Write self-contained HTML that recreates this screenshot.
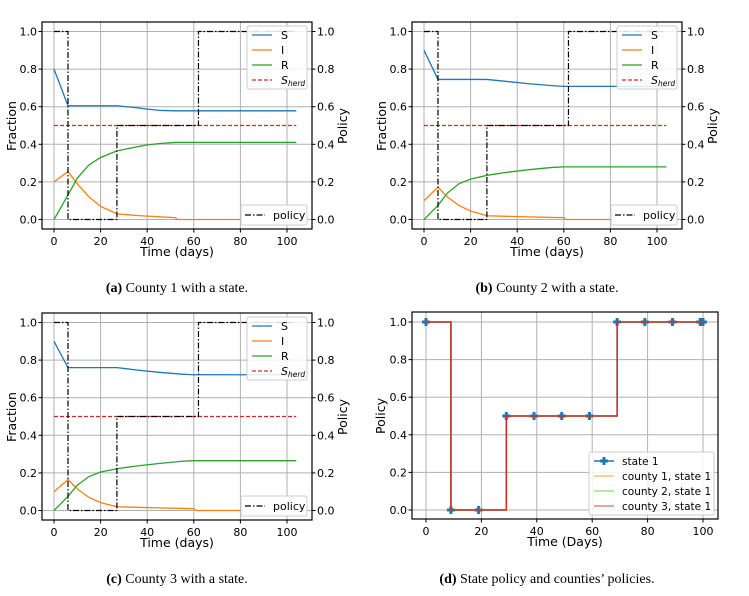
<!DOCTYPE html>
<html><head><meta charset="utf-8"><style>
body{margin:0;background:#fff;width:749px;height:591px;overflow:hidden}
svg text{font-family:"DejaVu Sans","Liberation Sans",sans-serif}
.cap{font-family:"Liberation Serif",serif;font-size:14px}
</style></head><body>
<svg id="fig" width="749" height="591" xmlns="http://www.w3.org/2000/svg"></svg>
<script>
// Panel (a) county 1
const daysA = [0,6,10,15,20,27,35,40,46,52,53,60,70,80,90,104];
const sA = [0.8,0.605,0.605,0.605,0.605,0.605,0.595,0.587,0.58,0.578,0.578,0.578,0.578,0.578,0.578,0.578];
const iA = [0.2,0.255,0.19,0.12,0.07,0.03,0.022,0.018,0.014,0.01,0,0,0,0,0,0];
const rA = [0,0.13,0.22,0.29,0.33,0.365,0.385,0.397,0.405,0.41,0.41,0.41,0.41,0.41,0.41,0.41];
// Panel (b) county 2
const daysB = [0,6,10,15,20,27,35,45,55,60,61,70,80,90,104];
const sB = [0.9,0.745,0.745,0.745,0.745,0.745,0.735,0.722,0.712,0.708,0.708,0.708,0.708,0.708,0.708];
const iB = [0.1,0.172,0.12,0.075,0.045,0.02,0.017,0.014,0.011,0.01,0,0,0,0,0];
const rB = [0,0.075,0.14,0.19,0.215,0.235,0.25,0.265,0.277,0.28,0.28,0.28,0.28,0.28,0.28];
// Panel (c) county 3
const daysC = [0,6,10,15,20,27,35,45,55,60,61,70,80,90,104];
const sC = [0.9,0.76,0.76,0.76,0.76,0.76,0.748,0.735,0.725,0.722,0.722,0.722,0.722,0.722,0.722];
const iC = [0.1,0.165,0.115,0.07,0.042,0.02,0.017,0.014,0.011,0.01,0,0,0,0,0];
const rC = [0,0.075,0.135,0.18,0.205,0.222,0.236,0.25,0.262,0.265,0.265,0.265,0.265,0.265,0.265];
const sherd = 0.5;
// county policy steps (shared)
const polDays = [0,6,27,62,104];
const polVals = [1,0,0.5,1,1];
// Panel (d) state policy
const stateDays = [0,9,19,29,39,49,59,69,79,89,99,100];
const stateVals = [1,0,0,0.5,0.5,0.5,0.5,1,1,1,1,1];
const countyDays = [0,9,29,69,100];
const countyVals = [1,0,0.5,1,1];
const xTicksA = [0,20,40,60,80,100];
const yTicks = [0,0.2,0.4,0.6,0.8,1.0];

const NS="http://www.w3.org/2000/svg";
const fig=document.getElementById('fig');
function el(tag,attrs,parent,txt){const e=document.createElementNS(NS,tag);for(const k in attrs)e.setAttribute(k,attrs[k]);if(txt!==undefined)e.textContent=txt;(parent||fig).appendChild(e);return e;}
const C={b:'#1f77b4',o:'#ff7f0e',g:'#2ca02c',r:'#d62728'};
const TF=11, LF=12.5;

function sirPanel(ox,oy,days,s,i,r,name,caption,bold){
  const g=el('g',{transform:`translate(${ox},${oy})`});
  
  
  const L=42,R=312,T=22,B=229;
  const X=d=>54+d*(287-54)/100, Y=v=>219.5-v*188;
  for(const t of xTicksA){el('line',{x1:X(t),x2:X(t),y1:T,y2:B,stroke:'#b0b0b0','stroke-width':1},g);}
  for(const t of yTicks){el('line',{x1:L,x2:R,y1:Y(t),y2:Y(t),stroke:'#b0b0b0','stroke-width':1},g);}
  const line=(xs,ys,col,extra)=>el('polyline',Object.assign({points:xs.map((d,k)=>X(d)+','+Y(ys[k])).join(' '),fill:'none',stroke:col,'stroke-width':1.3},extra||{}),g);
  let p=line(days,s,C.b);
  p=line(days,i,C.o);
  p=line(days,r,C.g);
  p=line([0,104],[sherd,sherd],C.r,{'stroke-dasharray':'4,2'});
  let pts=[];for(let k=0;k<polDays.length-1;k++){pts.push(X(polDays[k])+','+Y(polVals[k]));pts.push(X(polDays[k+1])+','+Y(polVals[k]));}
  p=el('polyline',{points:pts.join(' '),fill:'none',stroke:'#000','stroke-width':1.2,'stroke-dasharray':'6,2,1.5,2'},g);
  
  el('rect',{x:L,y:T,width:R-L,height:B-T,fill:'none',stroke:'#000','stroke-width':1.2},g);
  for(const t of xTicksA){el('line',{x1:X(t),x2:X(t),y1:B,y2:B+3.5,stroke:'#000'},g);el('text',{x:X(t),y:B+16,'font-size':TF,'text-anchor':'middle'},g,t);}
  for(const t of yTicks){el('line',{x1:L-3.5,x2:L,y1:Y(t),y2:Y(t),stroke:'#000'},g);el('text',{x:L-5,y:Y(t)+4,'font-size':TF,'text-anchor':'end'},g,t.toFixed(1));
    el('line',{x1:R,x2:R+3.5,y1:Y(t),y2:Y(t),stroke:'#000'},g);el('text',{x:R+5,y:Y(t)+4,'font-size':TF},g,t.toFixed(1));}
  el('text',{x:177,y:256,'font-size':LF,'text-anchor':'middle'},g,'Time (days)');
  el('text',{x:0,y:0,'font-size':LF,'text-anchor':'middle',transform:'translate(16,126) rotate(-90)'},g,'Fraction');
  el('text',{x:0,y:0,'font-size':LF,'text-anchor':'middle',transform:'translate(347,126) rotate(-90)'},g,'Policy');
  const lg=el('g',{},g);
  el('rect',{x:247,y:26,width:60,height:63,fill:'#fff','fill-opacity':0.85,stroke:'#ccc',rx:2},lg);
  const ent=[['S',C.b,''],['I',C.o,''],['R',C.g,''],['S',C.r,'4,2']];
  ent.forEach((e,k)=>{const y=35+k*15;el('line',{x1:252,x2:272,y1:y,y2:y,stroke:e[1],'stroke-width':1.3,'stroke-dasharray':e[2]},lg);
    const t=el('text',{x:281,y:y+4,'font-size':11,'font-style':k==3?'italic':'normal'},lg,e[0]);
    if(k==3){el('tspan',{'font-size':7.5,dy:2},t,'herd');}});
  const lg2=el('g',{},g);
  el('rect',{x:241,y:205,width:66,height:20,fill:'#fff',stroke:'#ccc',rx:2},lg2);
  el('line',{x1:245,x2:265,y1:215,y2:215,stroke:'#000','stroke-width':1.2,'stroke-dasharray':'6,2,1.5,2'},lg2);
  el('text',{x:273,y:219,'font-size':11},lg2,'policy');
  const c=el('text',{x:177,y:292,'text-anchor':'middle',class:'cap'},g);
  
  el('tspan',{'font-weight':'bold'},c,bold);el('tspan',{},c,' '+caption);
}
sirPanel(0,0,daysA,sA,iA,rA,'panel-a','County 1 with a state.','(a)');
sirPanel(370,0,daysB,sB,iB,rB,'panel-b','County 2 with a state.','(b)');
sirPanel(0,291,daysC,sC,iC,rC,'panel-c','County 3 with a state.','(c)');

(function(){
  const g=el('g',{});
  
  const L=412,R=718,T=312,B=519;
  const X=d=>426+d*(703-426)/100, Y=v=>510-v*188;
  for(const t of xTicksA){el('line',{x1:X(t),x2:X(t),y1:T,y2:B,stroke:'#b0b0b0'},g);}
  for(const t of yTicks){el('line',{x1:L,x2:R,y1:Y(t),y2:Y(t),stroke:'#b0b0b0'},g);}
  const step=(xs,ys)=>{let pts=[];for(let k=0;k<xs.length-1;k++){pts.push(X(xs[k])+','+Y(ys[k]));pts.push(X(xs[k+1])+','+Y(ys[k]));}return pts.join(' ');};
  let p=el('polyline',{points:step(stateDays,stateVals),fill:'none',stroke:C.b,'stroke-width':1.5},g);
  
  stateDays.forEach((d,k)=>{const m=el('path',{d:`M${X(d)-4},${Y(stateVals[k])-1.5}h2.5v-2.5h3v2.5h2.5v3h-2.5v2.5h-3v-2.5h-2.5z`,fill:C.b},g);
    });
  [[C.o,'county-1-line'],[C.g,'county-2-line'],[C.r,'county-3-line']].forEach(e=>{const q=el('polyline',{points:step(countyDays,countyVals),fill:'none',stroke:e[0],'stroke-width':1.3},g);
    });
  el('rect',{x:L,y:T,width:R-L,height:B-T,fill:'none',stroke:'#000','stroke-width':1.2},g);
  for(const t of xTicksA){el('line',{x1:X(t),x2:X(t),y1:B,y2:B+3.5,stroke:'#000'},g);el('text',{x:X(t),y:B+16,'font-size':TF,'text-anchor':'middle'},g,t);}
  for(const t of yTicks){el('line',{x1:L-3.5,x2:L,y1:Y(t),y2:Y(t),stroke:'#000'},g);el('text',{x:L-5,y:Y(t)+4,'font-size':TF,'text-anchor':'end'},g,t.toFixed(1));}
  el('text',{x:565,y:546,'font-size':LF,'text-anchor':'middle'},g,'Time (Days)');
  el('text',{x:0,y:0,'font-size':LF,'text-anchor':'middle',transform:'translate(385,416) rotate(-90)'},g,'Policy');
  const lg=el('g',{},g);
  el('rect',{x:589,y:452,width:125,height:63,fill:'#fff','fill-opacity':0.85,stroke:'#ccc',rx:2},lg);
  const ent=[['state 1',C.b],['county 1, state 1','#ffbb78'],['county 2, state 1','#98df8a'],['county 3, state 1','#f08080']];
  ent.forEach((e,k)=>{const y=461+k*15;el('line',{x1:594,x2:614,y1:y,y2:y,stroke:e[1],'stroke-width':1.5},lg);
    if(k==0)el('path',{d:`M600,${y-1.5}h2.5v-2.5h3v2.5h2.5v3h-2.5v2.5h-3v-2.5h-2.5z`,fill:C.b},lg);
    el('text',{x:622,y:y+4,'font-size':10.5},lg,e[0]);});
  const c=el('text',{x:547,y:583,'text-anchor':'middle',class:'cap'},g);
  
  el('tspan',{'font-weight':'bold'},c,'(d)');el('tspan',{},c,' State policy and counties\u2019 policies.');
})();
</script>
</body></html>
